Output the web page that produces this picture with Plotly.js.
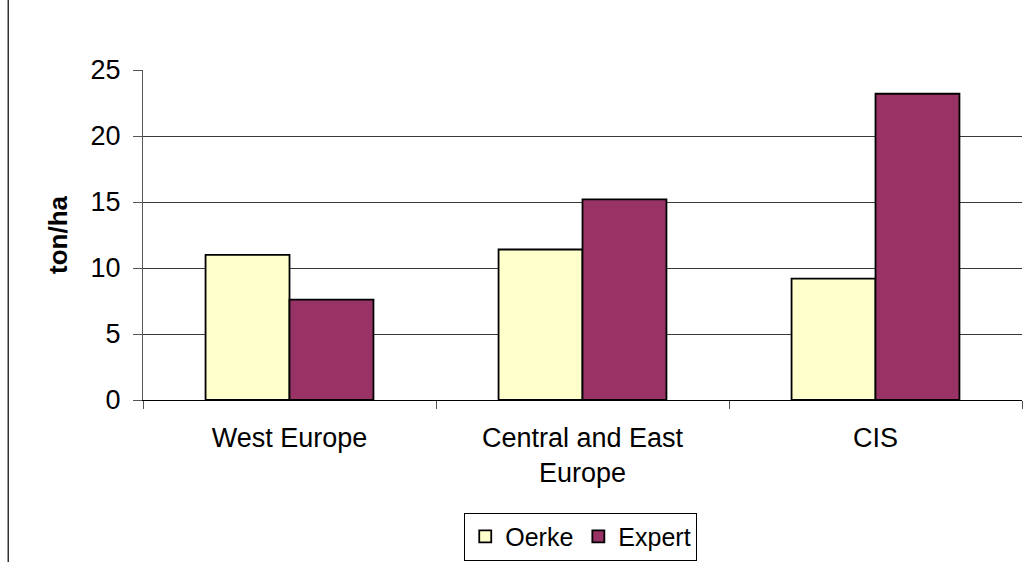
<!DOCTYPE html>
<html>
<head>
<meta charset="utf-8">
<script src="https://cdn.plot.ly/plotly-3.0.1.min.js"></script>
<style>
  html, body { margin: 0; padding: 0; background: #ffffff; }
  #chart { width: 1027px; height: 562px; }
</style>
</head>
<body>
<div id="chart"></div>
<script>
// Yield per region, two estimates (ton/ha)
const regions = ["West Europe", "Central and East<br>Europe", "CIS"];
const oerke = [11.0, 11.4, 9.2];
const expert = [7.6, 15.2, 23.2];
const yTicks = [0, 5, 10, 15, 20, 25];

const FONT = '"Liberation Sans", Arial, sans-serif';

const traces = [
  {
    type: 'bar', name: 'Oerke', x: regions, y: oerke,
    marker: { color: '#FFFFCC', line: { color: '#000000', width: 1.8 } }
  },
  {
    type: 'bar', name: 'Expert', x: regions, y: expert,
    marker: { color: '#993366', line: { color: '#000000', width: 1.8 } }
  }
];

const layout = {
  width: 1027, height: 562,
  margin: { l: 143, r: 5, t: 70, b: 162, autoexpand: false },
  paper_bgcolor: '#ffffff', plot_bgcolor: '#ffffff',
  font: { family: FONT, size: 27, color: '#000000' },
  barmode: 'group', bargap: 0.427, bargroupgap: 0,
  showlegend: true,
  legend: {
    orientation: 'h', x: 0.498, xanchor: 'center', y: -0.487, yanchor: 'bottom',
    bordercolor: '#000000', borderwidth: 1, bgcolor: '#ffffff',
    font: { family: FONT, size: 25, color: '#000000' },
    itemwidth: 30, tracegroupgap: 0
  },
  xaxis: {
    type: 'category', tickson: 'boundaries', ticks: 'outside', ticklen: 8,
    tickcolor: '#555555', tickwidth: 1,
    showline: true, linecolor: '#000000', linewidth: 1.2,
    showgrid: false, zeroline: false, ticklabelstandoff: 13,
    tickfont: { family: FONT, size: 27, color: '#000000' }
  },
  yaxis: {
    range: [0, 25], tickvals: yTicks, ticktext: yTicks.map(String),
    ticks: 'outside', ticklen: 9, tickcolor: '#555555', tickwidth: 1,
    showline: true, linecolor: '#555555', linewidth: 1,
    showgrid: true, gridcolor: '#3a3a3a', gridwidth: 1, zeroline: false,
    ticklabelstandoff: 7,
    tickfont: { family: FONT, size: 27, color: '#000000' },
    title: { text: '<b>ton/ha</b>', font: { family: FONT, size: 26, color: '#000000' }, standoff: 15 }
  },
  shapes: [
    {
      type: 'line', xref: 'paper', yref: 'paper',
      x0: -0.1533, x1: -0.1533, y0: -0.491, y1: 1.212,
      line: { color: '#333333', width: 1.5 }
    }
  ]
};

Plotly.newPlot('chart', traces, layout, { staticPlot: true, displayModeBar: false });
</script>
</body>
</html>
